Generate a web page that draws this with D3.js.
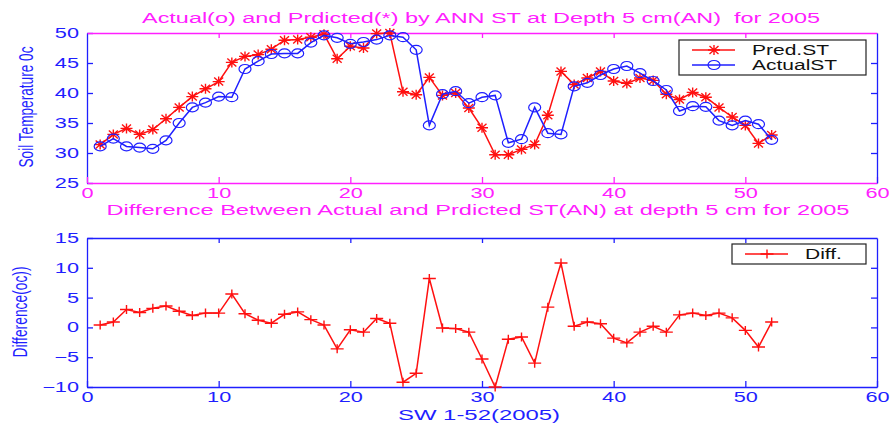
<!DOCTYPE html>
<html>
<head>
<meta charset="utf-8">
<script src="https://cdn.jsdelivr.net/npm/d3@7"></script>
<style>
body { margin: 0; background: #fff; }
text { font-family: "Liberation Sans", Arial, sans-serif; }
</style>
</head>
<body>
<svg id="chart" width="890" height="425"></svg>
<script>
// weekly values
var weeks = d3.range(1, 53);
var predST = [31.4, 33.1, 34.1, 33.1, 33.9, 35.7, 37.6, 39.4, 40.7, 41.9,
  45.1, 46.1, 46.4, 47.3, 48.8, 48.9, 49.3, 49.8, 45.7, 47.8,
  47.5, 49.9, 50.0, 40.2, 39.7, 42.6, 39.6, 40.0, 37.5, 34.2,
  29.7, 29.7, 30.6, 31.4, 36.3, 43.6, 41.4, 42.5, 43.6, 42.0,
  41.6, 42.5, 42.1, 39.8, 38.9, 40.1, 39.3, 37.6, 36.0, 34.6,
  31.6, 33.0];
var actualST = [31.1, 32.4, 31.1, 30.9, 30.7, 32.1, 35.0, 37.6, 38.4, 39.4,
  39.3, 44.0, 45.3, 46.5, 46.6, 46.6, 48.4, 49.6, 49.2, 48.2,
  48.5, 48.9, 49.6, 49.3, 47.2, 34.6, 39.8, 40.3, 38.3, 39.3,
  39.6, 31.7, 32.3, 37.6, 33.3, 33.1, 41.1, 41.7, 43.0, 44.0,
  44.5, 43.3, 42.0, 40.5, 37.0, 37.8, 37.7, 35.4, 34.6, 35.4,
  34.8, 32.2];
var diffST = [0.4, 0.9, 3.0, 2.5, 3.2, 3.6, 2.7, 2.0, 2.4, 2.4,
  5.6, 2.3, 1.2, 0.7, 2.2, 2.6, 1.3, 0.4, -3.6, -0.4,
  -0.8, 1.5, 0.7, -9.2, -7.7, 8.2, -0.1, -0.2, -0.8, -5.3,
  -10.0, -2.0, -1.6, -6.0, 3.4, 10.8, 0.2, 0.9, 0.6, -1.8,
  -2.6, -0.8, 0.2, -0.8, 2.1, 2.4, 2.0, 2.4, 1.6, -0.5,
  -3.3, 0.9];
var xTicks = [0, 10, 20, 30, 40, 50, 60];
var tempTicks = [25, 30, 35, 40, 45, 50];
var diffTicks = [-10, -5, 0, 5, 10, 15];

var BLUE = "#1f1fff", RED = "#ff1010", MAG = "#ff20ff";

var svg = d3.select("#chart");
var x = d3.scaleLinear().domain([0, 60]).range([87, 877]);
var yTop = d3.scaleLinear().domain([25, 50]).range([183, 33]);
var yBot = d3.scaleLinear().domain([-10, 15]).range([387, 238]);

// the original picture is stretched sideways, so widen the glyphs
function stretch(sel, k) {
  sel.each(function () {
    var w = this.getComputedTextLength();
    this.setAttribute("textLength", w * k);
    this.setAttribute("lengthAdjust", "spacingAndGlyphs");
  });
}

function styleAxis(g, col, withText) {
  g.attr("font-family", null).attr("font-size", null);
  g.select(".domain").attr("stroke", col).attr("stroke-width", 1.3);
  g.selectAll(".tick line").attr("stroke", col).attr("stroke-width", 1.3);
  g.selectAll(".tick text").attr("fill", col).attr("font-size", 14);
  if (withText) stretch(g.selectAll(".tick text"), 1.55);
}

function frame(y, yTicks, leftCol, botCol, topCol, rightCol) {
  var yr = y.range();
  var gl = svg.append("g").attr("transform", "translate(" + x(0) + ",0)")
    .call(d3.axisLeft(y).tickValues(yTicks).tickSize(-6).tickSizeOuter(0).tickPadding(8));
  styleAxis(gl, leftCol, true);

  var gb = svg.append("g").attr("transform", "translate(0," + yr[0] + ")")
    .call(d3.axisBottom(x).tickValues(xTicks).tickSize(-6).tickSizeOuter(0).tickPadding(5));
  styleAxis(gb, botCol, true);

  var gt = svg.append("g").attr("transform", "translate(0," + yr[1] + ")")
    .call(d3.axisTop(x).tickValues(xTicks.slice(1, -1)).tickSize(-5).tickSizeOuter(0).tickFormat(""));
  styleAxis(gt, topCol, false);

  var gr = svg.append("g").attr("transform", "translate(" + x(60) + ",0)")
    .call(d3.axisRight(y).tickValues(yTicks.slice(1, -1)).tickSize(-6).tickSizeOuter(0).tickFormat(""));
  styleAxis(gr, rightCol, false);
}

var starPath = "M-6,0H6M0,-5V5M-4.5,-4L4.5,4M-4.5,4L4.5,-4";
var plusPath = "M-6.5,0H6.5M0,-4.5V4.5";

function series(vals, y, col, marker) {
  var pts = weeks.map(function (w, i) { return [w, vals[i]]; });
  var line = d3.line().x(function (d) { return x(d[0]); }).y(function (d) { return y(d[1]); });
  svg.append("path").datum(pts).attr("d", line)
    .attr("fill", "none").attr("stroke", col).attr("stroke-width", 1.5);
  var m = svg.append("g").selectAll("g").data(pts).enter().append("g")
    .attr("transform", function (d) { return "translate(" + x(d[0]) + "," + y(d[1]) + ")"; });
  drawMarker(m, col, marker);
}

function drawMarker(sel, col, marker) {
  if (marker === "o") {
    sel.append("ellipse").attr("rx", 6).attr("ry", 4.5)
      .attr("fill", "none").attr("stroke", col).attr("stroke-width", 1.2);
  } else {
    sel.append("path").attr("d", marker === "*" ? starPath : plusPath)
      .attr("fill", "none").attr("stroke", col).attr("stroke-width", 1.4);
  }
}

function legend(x0, y0, w, h, items) {
  var g = svg.append("g");
  g.append("rect").attr("x", x0).attr("y", y0).attr("width", w).attr("height", h)
    .attr("fill", "#fff").attr("stroke", "#222").attr("stroke-width", 1.2);
  items.forEach(function (it, i) {
    var yy = y0 + 10 + i * 15;
    g.append("line").attr("x1", x0 + 13).attr("x2", x0 + 56).attr("y1", yy).attr("y2", yy)
      .attr("stroke", it.col).attr("stroke-width", 1.5);
    drawMarker(g.append("g").attr("transform", "translate(" + (x0 + 35) + "," + yy + ")"), it.col, it.marker);
    var t = g.append("text").attr("x", x0 + 73).attr("y", yy + 5).attr("font-size", 14)
      .attr("fill", "#111").text(it.label);
    stretch(t, 1.5);
  });
}

function label(txt, cx, cy, len, col, rot) {
  var t = svg.append("text").attr("text-anchor", "middle").attr("dominant-baseline", "central")
    .attr("font-size", rot ? 13.5 : 14).attr("fill", col)
    .attr("textLength", len).attr("lengthAdjust", "spacingAndGlyphs")
    .attr("xml:space", "preserve").text(txt);
  // rotated labels: glyphs are widened across the page like the rest
  if (rot) t.attr("transform", "translate(" + cx + "," + cy + ") rotate(-90) scale(1,1.5)");
  else t.attr("x", cx).attr("y", cy);
}

// top panel
frame(yTop, tempTicks, BLUE, MAG, MAG, BLUE);
series(predST, yTop, RED, "*");
series(actualST, yTop, BLUE, "o");
legend(679, 40, 187, 35, [
  { label: "Pred.ST", col: RED, marker: "*" },
  { label: "ActualST", col: BLUE, marker: "o" }
]);
label("Actual(o) and Prdicted(*) by ANN ST at Depth 5 cm(AN)\u00a0 for 2005", 481, 18, 678, MAG);
label("Soil Temperature 0c", 26, 107, 121, BLUE, true);

// bottom panel
frame(yBot, diffTicks, BLUE, BLUE, BLUE, BLUE);
series(diffST, yBot, RED, "+");
legend(732, 244, 134, 20, [{ label: "Diff.", col: RED, marker: "+" }]);
label("Difference Between Actual and Prdicted ST(AN) at depth 5 cm for 2005", 478, 210, 743, MAG);
label("Difference(oc))", 20, 312, 91, BLUE, true);
label("SW 1-52(2005)", 479, 415, 162, BLUE);
</script>
</body>
</html>
